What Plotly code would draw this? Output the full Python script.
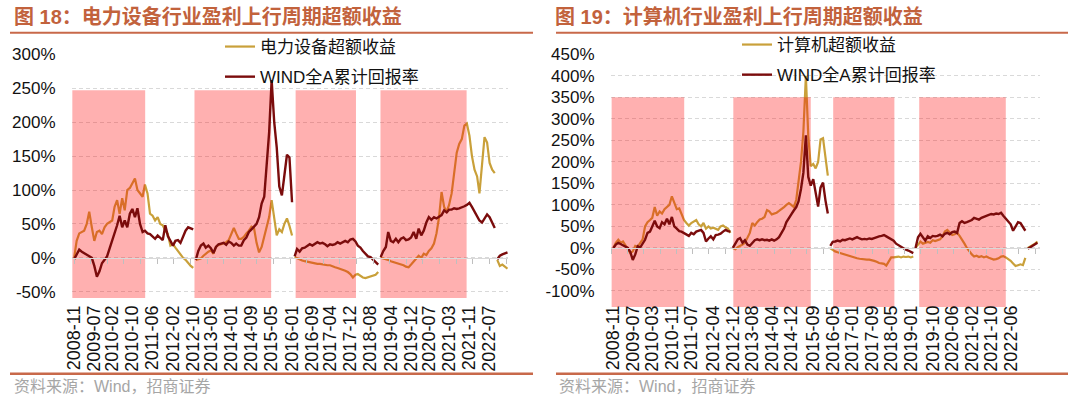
import pandas as pd
import plotly.graph_objects as go

# ---------------- data ----------------
TITLE_LEFT = "图 18：电力设备行业盈利上行周期超额收益"
TITLE_RIGHT = "图 19：计算机行业盈利上行周期超额收益"
NAMES_LEFT = ["电力设备超额收益", "WIND全A累计回报率"]
NAMES_RIGHT = ["计算机超额收益", "WIND全A累计回报率"]
SOURCE = "资料来源：Wind，招商证券"

LEFT_TICKS = ["2008-11", "2009-07", "2010-02", "2010-10", "2011-06", "2012-02", "2012-10",
              "2013-05", "2014-01", "2014-09", "2015-05", "2016-01", "2016-09", "2017-04",
              "2017-12", "2018-08", "2019-04", "2019-12", "2020-07", "2021-03", "2021-11", "2022-07"]
RIGHT_TICKS = ["2008-11", "2009-07", "2010-03", "2010-11", "2011-07", "2012-04", "2012-12",
               "2013-08", "2014-04", "2014-12", "2015-09", "2016-05", "2017-01", "2017-09",
               "2018-05", "2019-01", "2019-10", "2020-06", "2021-02", "2021-10", "2022-06"]
LEFT_Y_TICKS = [-50, 0, 50, 100, 150, 200, 250, 300]
RIGHT_Y_TICKS = [-100, -50, 0, 50, 100, 150, 200, 250, 300, 350, 400, 450]

# monthly values (%), each sub-list is one cycle segment starting at the given month
LEFT_SEG_START = ["2008-11", "2012-11", "2016-02", "2018-12", "2022-10"]
POWER_EXCESS = [
    [0, 25, 36, 38, 40, 50, 68, 45, 25, 38, 40, 35, 45, 50, 52, 55, 75, 85, 65, 88, 70, 100, 103, 110,
     117, 100, 95, 90, 108, 95, 65, 62, 55, 60, 50, 48, 40, 35, 18, 20, 15, 10, 5, 0, -3, -8, -12, -15],
    [-3, -2, -1, 3, 6, 9, 11, 6, 16, 19, 20, 21, 23, 26, 35, 44, 36, 28, 28, 31, 36, 40, 46, 44,
     22, 8, 16, 31, 47, 60, 85, 55, 33, 42, 38, 50, 58, 47, 33],
    [1, -1, -3, -4, -5, -6, -6, -7, -8, -9, -9, -10, -10, -11, -11, -13, -14, -15, -16, -18, -19, -21,
     -24, -29, -25, -24, -27, -29, -30, -29, -28, -27, -25, -21],
    [0, -1, -2, -3, -5, -6, -8, -9, -10, -11, -13, -14, -10, -6, -2, 3, 0, 6, 4, 10, 14, 21, 36, 60,
     97, 75, 68, 78, 95, 125, 155, 168, 175, 195, 198, 180, 150, 130, 120, 95, 140, 178, 170, 140, 130, 125],
    [-3, -12, -10, -13, -16],
]
LEFT_WIND = [
    [-2, 5, 12, 9, 7, 5, 3, 0, -12, -28, -20, -8, -3, 2, 14, 25, 37, 48, 62, 45, 55, 45, 65, 72,
     60, 73, 50, 38, 40, 36, 35, 32, 28, 33, 30, 26, 48, 32, 25, 18, 25, 26, 22, 30, 40, 45, 44, 42],
    [-3, 10, 18, 21, 15, 18, 14, 7, 16, 20, 21, 22, 19, 24, 22, 18, 21, 18, 18, 26, 30, 38, 42, 46,
     50, 60, 80, 90, 139, 185, 262, 200, 163, 105, 92, 125, 152, 148, 82],
    [2, 13, 9, 14, 15, 17, 20, 18, 21, 23, 21, 22, 20, 17, 20, 19, 20, 23, 21, 23, 25, 23, 27, 28,
     24, 18, 15, 10, 6, 2, 1, -3, -6, -10],
    [1, 10, 16, 38, 25, 23, 28, 23, 28, 30, 26, 27, 30, 38, 28, 43, 33, 40, 52, 60, 56, 60, 58, 60,
     63, 70, 67, 71, 71, 73, 72, 73, 74, 76, 78, 81, 75, 68, 62, 55, 52, 58, 64, 60, 52, 44],
    [-2, 3, 5, 7, 8],
]

RIGHT_SEG_START = ["2008-11", "2012-12", "2016-04", "2019-03", "2023-01"]
COMPUTER_EXCESS = [
    [0, 12, 19, 12, 15, 5, -5, -12, -8, 5, 3, 10, 20, 50, 60, 65, 70, 95, 75, 85, 80, 90, 95, 100,
     120, 105, 90, 92, 80, 65, 58, 52, 58, 62, 65, 55, 50, 58, 45, 50, 45, 47, 45, 42, 50, 52, 48, 45, 35],
    [0, -3, 2, 4, 8, 12, 25, 35, 58, 52, 60, 66, 68, 72, 88, 85, 78, 80, 82, 86, 90, 95, 100, 104,
     100, 95, 112, 150, 200, 270, 400, 260, 190, 195, 185, 200, 252, 255, 215, 168],
    [-1, -5, -8, -10, -12, -14, -16, -18, -20, -22, -23, -24, -25, -26, -26, -27, -27, -28, -30, -32,
     -35, -36, -37, -41, -30, -22, -22, -21, -20, -22, -20, -21, -20, -22, -20],
    [0, 8, 15, 10, 12, 14, 12, 18, 16, 18, 20, 27, 38, 42, 35, 30, 32, 35, 28, 20, 10, 0, -8, -15,
     -20, -18, -21, -19, -22, -20, -23, -25, -27, -26, -24, -20, -19, -22, -25, -30, -36, -42, -40, -38, -40, -23],
    [0, 3, 6, 10, 15],
]
RIGHT_WIND = [
    [0, 8, 12, 9, 6, 3, 0, -10, -28, -15, 4, 1, 12, 19, 35, 38, 50, 63, 50, 46, 60, 55, 68, 55,
     72, 50, 45, 39, 38, 35, 32, 28, 35, 32, 38, 40, 42, 35, 15, 22, 27, 20, 30, 31, 33, 38, 42, 39, 38],
    [0, 12, 20, 23, 12, 18, 8, 5, 12, 18, 20, 18, 20, 18, 19, 17, 20, 17, 20, 25, 35, 45, 60, 68,
     78, 87, 95, 108, 137, 175, 262, 165, 145, 160, 130, 96, 140, 152, 110, 80],
    [5, 14, 15, 17, 15, 19, 18, 20, 22, 20, 23, 25, 22, 20, 21, 20, 22, 21, 23, 26, 27, 28, 30, 27,
     24, 20, 17, 10, 6, 2, -1, -4, -6, -10, -12],
    [0, 25, 33, 24, 17, 27, 23, 28, 27, 28, 31, 27, 33, 35, 32, 37, 38, 35, 58, 62, 58, 60, 62, 65,
     70, 68, 66, 70, 72, 74, 77, 79, 78, 80, 79, 82, 75, 68, 62, 55, 40, 50, 60, 58, 50, 40],
    [-2, 2, 5, 8, 12],
]

# earnings up-cycle periods (shaded)
LEFT_UP_START = ["2008-10-10", "2012-10-16", "2016-02-13", "2018-11-28"]
LEFT_UP_END = ["2011-03-04", "2015-04-25", "2018-02-07", "2021-09-28"]
RIGHT_UP_START = ["2008-10-10", "2012-12-07", "2016-05-07", "2019-04-16"]
RIGHT_UP_END = ["2011-04-04", "2015-08-01", "2018-06-10", "2022-04-01"]

# ---------------- style / layout ----------------
W, H = 1080, 399
GOLD = "#C9A03A"
MAROON = "#7B0C0C"
PINK = "rgba(255,0,0,0.31)"
ACCENT = "#C2623C"
RULE = "#C8694A"
GRID = "#D9D9D9"
FONT = "Liberation Sans, Arial, Noto Sans CJK SC"
CJK = "Liberation Sans, Noto Sans CJK SC"


def px_x(p):
    return p / W


def px_y(p):
    return 1 - p / H


L_DOM_X = [px_x(72), px_x(508)]
R_DOM_X = [px_x(611), px_x(1040)]
L_DOM_Y = [px_y(298), px_y(54.4)]
R_DOM_Y = [px_y(307), px_y(54.3)]
L_YR = [-59.3, 300]
R_YR = [-137.2, 450]
L_XR = ["2008-10-06", "2023-02-07"]
R_XR = ["2008-10-02", "2023-06-02"]
L_BAND_TOP = 247
R_BAND_TOP = 350
LABEL_POS = px_y(301)


def seg_xy(starts, segs):
    xs, ys = [], []
    for s, vals in zip(starts, segs):
        d = pd.date_range(start=s + "-01", periods=len(vals), freq="MS")
        xs += list(d.strftime("%Y-%m-%d")) + [None]
        ys += list(vals) + [None]
    return xs, ys


def band(starts, ends):
    s = pd.to_datetime(pd.Series(starts))
    e = pd.to_datetime(pd.Series(ends))
    mid = (s + (e - s) / 2).dt.strftime("%Y-%m-%d %H:%M:%S").tolist()
    width = ((e - s).dt.total_seconds() * 1000).tolist()
    return mid, width


def zero_pos(dom, yr):
    return dom[0] + (0 - yr[0]) / (yr[1] - yr[0]) * (dom[1] - dom[0])


fig = go.Figure()

# ---- left panel ----
x, y = seg_xy(LEFT_SEG_START, POWER_EXCESS)
fig.add_trace(go.Scatter(x=x, y=y, mode="lines", name=NAMES_LEFT[0], line=dict(color=GOLD, width=2.2),
                         xaxis="x", yaxis="y", legend="legend", legendgroup="a", connectgaps=False))
mid, wid = band(LEFT_UP_START, LEFT_UP_END)
fig.add_trace(go.Bar(x=mid, y=[L_BAND_TOP - (L_YR[0] - 20)] * len(mid), base=L_YR[0] - 20, width=wid,
                     marker=dict(color=PINK, line=dict(width=0)), showlegend=False, hoverinfo="skip",
                     xaxis="x", yaxis="y2"))
x, y = seg_xy(LEFT_SEG_START, LEFT_WIND)
fig.add_trace(go.Scatter(x=x, y=y, mode="lines", name=NAMES_LEFT[1], line=dict(color=MAROON, width=2.4),
                         xaxis="x3", yaxis="y3", legend="legend", legendgroup="b", connectgaps=False))

# ---- right panel ----
x, y = seg_xy(RIGHT_SEG_START, COMPUTER_EXCESS)
fig.add_trace(go.Scatter(x=x, y=y, mode="lines", name=NAMES_RIGHT[0], line=dict(color=GOLD, width=2.2),
                         xaxis="x2", yaxis="y4", legend="legend2", legendgroup="c", connectgaps=False))
mid, wid = band(RIGHT_UP_START, RIGHT_UP_END)
fig.add_trace(go.Bar(x=mid, y=[R_BAND_TOP - (R_YR[0] - 20)] * len(mid), base=R_YR[0] - 20, width=wid,
                     marker=dict(color=PINK, line=dict(width=0)), showlegend=False, hoverinfo="skip",
                     xaxis="x2", yaxis="y5"))
x, y = seg_xy(RIGHT_SEG_START, RIGHT_WIND)
fig.add_trace(go.Scatter(x=x, y=y, mode="lines", name=NAMES_RIGHT[1], line=dict(color=MAROON, width=2.4),
                         xaxis="x4", yaxis="y6", legend="legend2", legendgroup="d", connectgaps=False))


def main_x(dom, xr, ticks):
    return dict(domain=dom, type="date", range=xr, anchor="free", position=LABEL_POS, automargin=False,
                tickmode="array", tickvals=[t + "-01" for t in ticks], ticktext=ticks,
                tickangle=-90, ticks="", showgrid=False, showline=False, zeroline=False,
                tickfont=dict(family=FONT, size=18, color="#111111"))


def tick_x(over, xr, pos, tick0, days):
    return dict(overlaying=over, type="date", range=xr, anchor="free", position=pos, automargin=False,
                showticklabels=False, ticks="outside", ticklen=5, tickwidth=1, tickcolor="#BFBFBF",
                tickmode="linear", tick0=tick0, dtick=days * 86400000,
                showline=True, linecolor=GRID, linewidth=1, showgrid=False, zeroline=False)


def main_y(dom, yr, ticks, anchor):
    return dict(domain=dom, range=yr, anchor=anchor, automargin=False, tickmode="array", tickvals=ticks,
                ticktext=[f"{t}%" for t in ticks], showgrid=True, gridcolor=GRID, gridwidth=1,
                griddash="4px,3px", zeroline=False, showline=False, ticks="outside", ticklen=12,
                tickcolor="rgba(0,0,0,0)", tickfont=dict(family=FONT, size=17, color="#111111"))


def hidden_y(over, yr, anchor):
    return dict(overlaying=over, range=yr, anchor=anchor, visible=False, automargin=False)


legend_common = dict(xanchor="left", yanchor="top", bgcolor="rgba(0,0,0,0)", borderwidth=0,
                     font=dict(family=CJK, size=17, color="#111111"), tracegroupgap=5)

fig.update_layout(
    width=W, height=H, margin=dict(l=0, r=0, t=0, b=0, autoexpand=False),
    paper_bgcolor="white", plot_bgcolor="white", showlegend=True,
    xaxis=main_x(L_DOM_X, L_XR, LEFT_TICKS),
    xaxis2=main_x(R_DOM_X, R_XR, RIGHT_TICKS),
    xaxis3=tick_x("x", L_XR, zero_pos(L_DOM_Y, L_YR), "2008-11-01", 199.5),
    xaxis4=tick_x("x2", R_XR, zero_pos(R_DOM_Y, R_YR), "2008-10-03", 203.6),
    yaxis=main_y(L_DOM_Y, L_YR, LEFT_Y_TICKS, "x"),
    yaxis2=hidden_y("y", L_YR, "x"),
    yaxis3=hidden_y("y", L_YR, "x3"),
    yaxis4=main_y(R_DOM_Y, R_YR, RIGHT_Y_TICKS, "x2"),
    yaxis5=hidden_y("y4", R_YR, "x2"),
    yaxis6=hidden_y("y4", R_YR, "x4"),
    legend=dict(x=px_x(220), y=px_y(29), **legend_common),
    legend2=dict(x=px_x(737), y=px_y(27), **legend_common),
    barmode="overlay",
)

# titles, sources
for xp, txt in [(12, TITLE_LEFT), (553, TITLE_RIGHT)]:
    fig.add_annotation(x=px_x(xp), y=px_y(17), xref="paper", yref="paper", xanchor="left",
                       yanchor="middle", showarrow=False, text=f"<b>{txt}</b>",
                       font=dict(family=CJK, size=20, color=ACCENT))
for xp in [12, 557]:
    fig.add_annotation(x=px_x(xp), y=px_y(386), xref="paper", yref="paper", xanchor="left",
                       yanchor="middle", showarrow=False, text=SOURCE,
                       font=dict(family=CJK, size=16, color="#A6A6A6"))

# header / footer rules
for x0, x1 in [(10, 533), (556, 1068)]:
    for yp, wdt in [(32.7, 2), (373.8, 2.5)]:
        fig.add_shape(type="line", xref="paper", yref="paper", x0=px_x(x0), x1=px_x(x1),
                      y0=px_y(yp), y1=px_y(yp), line=dict(color=RULE, width=wdt))

fig.write_html("out.html", config={"displayModeBar": False},
               post_script="document.body.style.margin='0px';document.body.style.overflow='hidden';")
